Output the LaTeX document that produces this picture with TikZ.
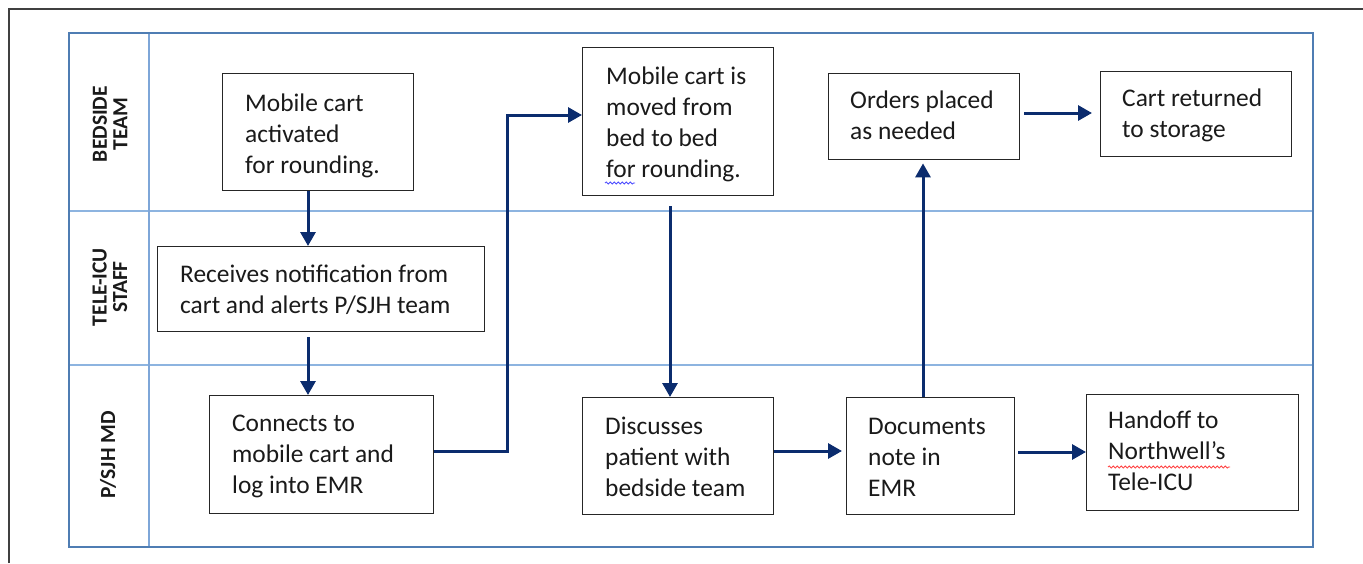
\documentclass[tikz,border=0pt]{standalone}
\usepackage{fontspec}
\setmainfont{Carlito}
\usetikzlibrary{arrows.meta,calc,decorations.pathmorphing}
\definecolor{navy}{HTML}{0B2C6E}
\definecolor{laneblue}{HTML}{8DB4E0}
\definecolor{frameblue}{HTML}{4F7DB3}
\definecolor{colblue}{HTML}{7EA6D8}
\definecolor{txtgray}{HTML}{1A1A1A}
\begin{document}
\begin{tikzpicture}[x=1pt,y=-1pt,
  box/.style={draw=black!85, line width=1.4pt, fill=white, anchor=north west, inner sep=0pt},
  txt/.style={anchor=base west, inner sep=0pt, align=left, text=txtgray, font=\fontsize{25.4}{31}\selectfont},
  lane/.style={rotate=90, align=center, inner sep=0pt, text=txtgray, font=\bfseries\fontsize{21.5}{20.5}\selectfont},
  arr/.style={draw=navy, line width=3pt, -{Triangle[length=14pt,width=15pt]}},
  squig/.style={decorate, decoration={snake, amplitude=1.1pt, segment length=4pt}, line width=0.8pt}
]
\useasboundingbox (0,0) rectangle (1363,563);
\fill[white] (0,0) rectangle (1363,563);
% outer figure frame (cropped)
\draw[black!75, line width=1.5pt] (9,563) -- (9,9) -- (1363,9);
% swimlane grid
\draw[laneblue, line width=1.5pt] (69,211) -- (1313,211);
\draw[laneblue, line width=1.5pt] (69,365) -- (1313,365);
\draw[colblue, line width=1.6pt] (149,33) -- (149,547);
\draw[frameblue, line width=2.2pt] (69,33) rectangle (1313,547);
% lane labels
\node[lane] (l1) at (110,124) {BEDSIDE\\TEAM};
\node[lane] (l2) at (110,287) {TELE-ICU\\STAFF};
\node[lane] (l3) at (108,455) {P/SJH MD};
% boxes
\node[box, minimum width=191pt, minimum height=117pt] (b1) at (222,73) {};
\node[box, minimum width=327pt, minimum height=85pt]  (b2) at (157,246) {};
\node[box, minimum width=224pt, minimum height=118pt] (b3) at (209,395) {};
\node[box, minimum width=191pt, minimum height=148pt] (b4) at (582,47) {};
\node[box, minimum width=191pt, minimum height=117pt] (b5) at (582,397) {};
\node[box, minimum width=191pt, minimum height=86pt]  (b6) at (828,73) {};
\node[box, minimum width=191pt, minimum height=85pt]  (b7) at (1100,71) {};
\node[box, minimum width=168pt, minimum height=117pt] (b8) at (846,397) {};
\node[box, minimum width=212pt, minimum height=116pt] (b9) at (1086,394) {};
% texts (anchor = baseline of the last line)
\node[txt] (t1) at ($(b1.north west)+(23,100)$) {Mobile cart\\activated\\for rounding.};
\node[txt] (t2) at ($(b2.north west)+(23,67)$) {Receives notification from\\cart and alerts P/SJH team};
\node[txt] (t3) at ($(b3.north west)+(23,98)$) {Connects to\\mobile cart and\\log into EMR};
\node[txt] (t4) at ($(b4.north west)+(24,130)$) {Mobile cart is\\moved from\\bed to bed\\for rounding.};
\node[txt] (t5) at ($(b5.north west)+(23,99)$) {Discusses\\patient with\\bedside team};
\node[txt] (t6) at ($(b6.north west)+(22,66)$) {Orders placed\\as needed};
\node[txt] (t7) at ($(b7.north west)+(22,66)$) {Cart returned\\to storage};
\node[txt] (t8) at ($(b8.north west)+(22,99)$) {Documents\\note in\\EMR};
\node[txt] (t9) at ($(b9.north west)+(22,96)$) {Handoff to\\Northwell’s\\Tele-ICU};
% spell-check squiggles
\draw[squig, blue!70!white] ($(b4.north west)+(23,136)$) -- ++(30,0);
\draw[squig, red!75!white] ($(b9.north west)+(22,73)$) -- ++(122,0);
% connectors
\draw[arr] (b1.south -| 308,0) -- (b2.north -| 308,0);
\draw[arr, shorten <=5pt] (b2.south -| 308,0) -- (b3.north -| 308,0);
\draw[arr] (b3.east |- 0,451) -- (507,451) -- (507,115) -- (b4.west |- 0,115);
\draw[arr, shorten <=10pt] (b4.south -| 670,0) -- (b5.north -| 670,0);
\draw[arr, shorten >=4pt] (b5.east |- 0,451) -- (b8.west |- 0,451);
\draw[arr, shorten >=3pt] (b8.north -| 923,0) -- (b6.south -| 923,0);
\draw[arr, shorten <=4pt, shorten >=8pt] (b6.east |- 0,113) -- (b7.west |- 0,113);
\draw[arr, shorten <=3pt] (b8.east |- 0,452) -- (b9.west |- 0,452);
\end{tikzpicture}
\end{document}
